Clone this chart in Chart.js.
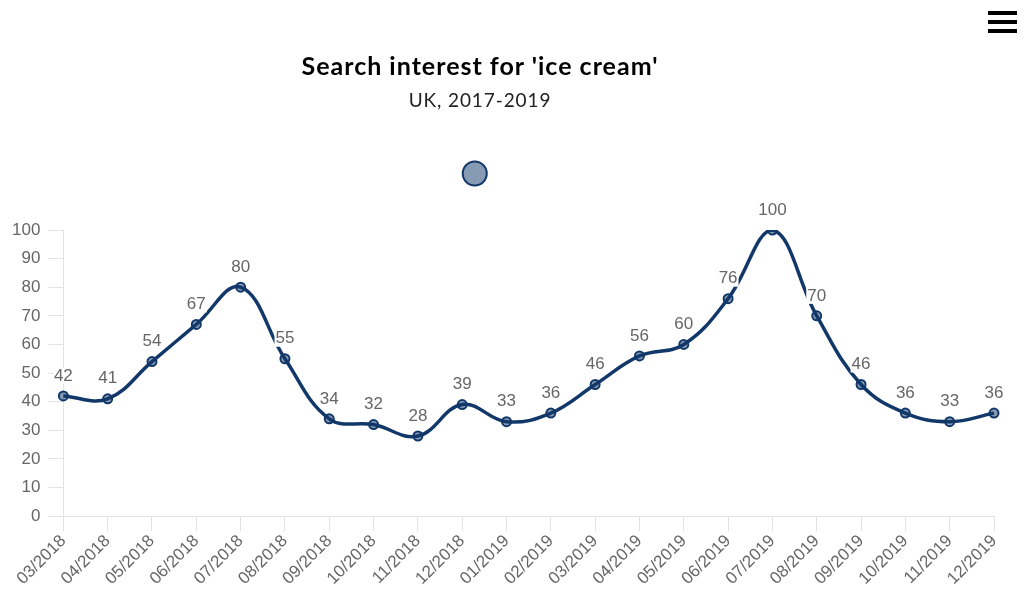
<!DOCTYPE html>
<html>
<head>
<meta charset="utf-8">
<title>Search interest for 'ice cream'</title>
<script src="https://cdn.jsdelivr.net/npm/chart.js@4/dist/chart.umd.min.js"></script>
<style>
  html, body { margin: 0; padding: 0; background: #fff; }
  #wrap { position: relative; width: 1024px; height: 591px; overflow: hidden; }
  #chart { position: absolute; left: 0; top: 0; }
  .title { position: absolute; left: 0; width: 960px; text-align: center; color: #000; font-family: Lato, "Open Sans", sans-serif; }
  #main-title { top: 50px; font-size: 25px; font-weight: 700; letter-spacing: 1px; }
  #sub-title { top: 88px; font-size: 19px; font-weight: 400; letter-spacing: 0.9px; color: #222; }
  #menu { position: absolute; right: 7px; top: 11px; width: 29px; }
  #menu div { height: 4px; background: #000; margin-bottom: 5px; }
</style>
</head>
<body>
<div id="wrap">
  <canvas id="chart" width="1024" height="591"></canvas>
  <div class="title" id="main-title">Search interest for 'ice cream'</div>
  <div class="title" id="sub-title">UK, 2017-2019</div>
  <div id="menu"><div></div><div></div><div></div></div>
</div>
<script>
// Meses (eje X)
const months = [
  "03/2018", "04/2018", "05/2018", "06/2018", "07/2018", "08/2018",
  "09/2018", "10/2018", "11/2018", "12/2018", "01/2019", "02/2019",
  "03/2019", "04/2019", "05/2019", "06/2019", "07/2019", "08/2019",
  "09/2019", "10/2019", "11/2019", "12/2019",
];

// Interés de búsqueda (eje Y)
const interest = [
  42, 41, 54, 67, 80, 55, 34, 32, 28, 39, 33,
  36, 46, 56, 60, 76, 100, 70, 46, 36, 33, 36,
];

const seriesName = "ice cream";
const yMin = 0;
const yMax = 100;
const yStep = 10;

const navy = "#12386a";
const navyFill = "rgba(18, 56, 106, 0.5)";
const axisGrey = "#e3e3e3";
const textGrey = "#666666";
const tickFont = { size: 17, family: "'Liberation Sans', Arial, sans-serif" };

// Etiquetas con el valor encima de cada punto
const valueLabels = {
  id: "valueLabels",
  afterDatasetsDraw(chart) {
    const ctx = chart.ctx;
    const meta = chart.getDatasetMeta(0);
    ctx.save();
    ctx.font = "17px 'Liberation Sans', Arial, sans-serif";
    ctx.textAlign = "center";
    ctx.textBaseline = "middle";
    meta.data.forEach((pt, i) => {
      const txt = String(interest[i]);
      const w = ctx.measureText(txt).width;
      const y = pt.y - 20;
      ctx.fillStyle = "#ffffff";
      ctx.fillRect(pt.x - w / 2 - 1, y - 8, w + 2, 16);
      ctx.fillStyle = textGrey;
      ctx.fillText(txt, pt.x, y);
    });
    ctx.restore();
  },
};

// Leyenda: más espacio debajo y un poco movida a la izquierda
const legendSpacing = {
  id: "legendSpacing",
  beforeInit(chart) {
    const fit = chart.legend.fit;
    chart.legend.fit = function () {
      fit.bind(this)();
      this.height += 38;
    };
  },
  afterLayout(chart) {
    chart.legend.left -= 20;
    chart.legend.right -= 20;
  },
};

const ctx = document.getElementById("chart").getContext("2d");

const chart = new Chart(ctx, {
  type: "line",
  data: {
    labels: months,
    datasets: [
      {
        label: seriesName,
        data: interest,
        borderColor: navy,
        borderWidth: 3.5,
        tension: 0.4,
        pointRadius: 4.5,
        pointBorderWidth: 2,
        pointBackgroundColor: navyFill,
        pointBorderColor: navy,
        fill: false,
      },
    ],
  },
  options: {
    responsive: false,
    animation: false,
    layout: {
      padding: { top: 155, left: 4, right: 30, bottom: 2 },
    },
    plugins: {
      title: { display: false },
      tooltip: { enabled: false },
      legend: {
        display: true,
        position: "top",
        labels: {
          usePointStyle: true,
          pointStyle: "circle",
          boxHeight: 17,
          font: { size: 17 },
          generateLabels(chart) {
            return Chart.defaults.plugins.legend.labels
              .generateLabels(chart)
              .map((item) => ({ ...item, text: "" }));
          },
        },
      },
    },
    scales: {
      x: {
        grid: {
          drawOnChartArea: false,
          drawTicks: true,
          tickLength: 15,
          color: axisGrey,
        },
        border: { color: axisGrey },
        ticks: {
          autoSkip: false,
          maxRotation: 45,
          minRotation: 45,
          padding: 0,
          color: textGrey,
          font: tickFont,
        },
      },
      y: {
        min: yMin,
        max: yMax,
        grid: {
          drawOnChartArea: false,
          drawTicks: true,
          tickLength: 15,
          color: axisGrey,
        },
        border: { color: axisGrey },
        ticks: {
          stepSize: yStep,
          padding: 8,
          color: textGrey,
          font: tickFont,
        },
      },
    },
  },
  plugins: [valueLabels, legendSpacing],
});
</script>
</body>
</html>
